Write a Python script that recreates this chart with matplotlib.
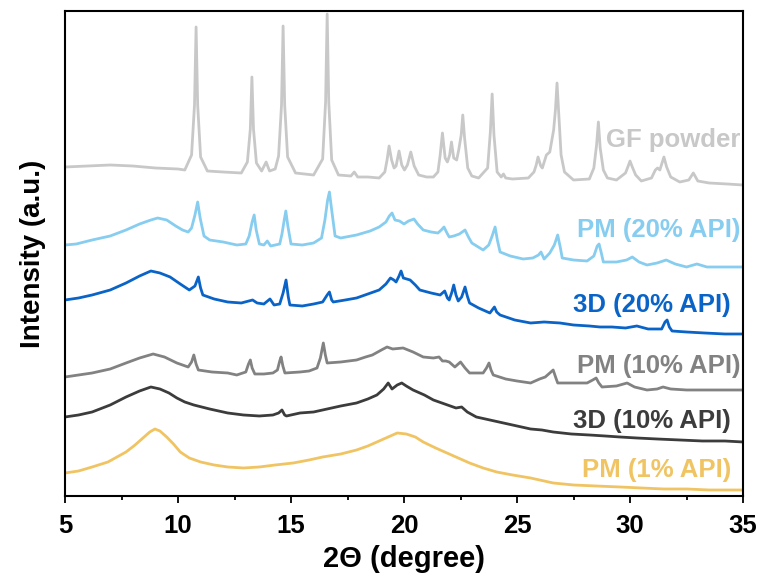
import matplotlib
matplotlib.use("Agg")
import matplotlib.pyplot as plt
from matplotlib.ticker import MultipleLocator

plt.rcParams['font.family'] = ['Liberation Sans', 'DejaVu Sans']
plt.rcParams['font.weight'] = 'bold'

# (2theta, intensity a.u.)
gf_powder = [
    (5.0, 329), (6.0, 330), (7.0, 331), (8.0, 330), (9.0, 328), (10.0, 327), (10.3, 326),
    (10.6, 341), (10.73, 391), (10.8, 469), (10.87, 391), (11.0, 339), (11.3, 325),
    (12.0, 324), (12.8, 323), (13.07, 334), (13.2, 367), (13.27, 419), (13.34, 367),
    (13.47, 333), (13.7, 325), (13.9, 334), (14.05, 325), (14.3, 327), (14.45, 340),
    (14.58, 391), (14.65, 470), (14.72, 391), (14.85, 339), (15.2, 323), (16.0, 321),
    (16.4, 337), (16.53, 394), (16.6, 482), (16.67, 394), (16.8, 336), (17.1, 321),
    (17.65, 320), (17.8, 324), (17.95, 319), (18.4, 319), (18.9, 318), (19.15, 324),
    (19.25, 336), (19.34, 350), (19.45, 336), (19.56, 328), (19.65, 330), (19.78, 345),
    (19.9, 331), (20.02, 326), (20.15, 331), (20.3, 344), (20.45, 330), (20.65, 321),
    (21.0, 319), (21.3, 319), (21.5, 324), (21.6, 341), (21.7, 363), (21.82, 338),
    (21.92, 334), (22.02, 341), (22.1, 354), (22.2, 338), (22.33, 336), (22.42, 346),
    (22.53, 361), (22.6, 381), (22.68, 358), (22.82, 328), (23.0, 320), (23.3, 318),
    (23.7, 328), (23.82, 364), (23.9, 402), (23.98, 361), (24.12, 324), (24.3, 319),
    (24.4, 322), (24.5, 318), (24.8, 317), (25.5, 318), (25.75, 324), (25.85, 331),
    (25.93, 339), (26.05, 330), (26.12, 328), (26.3, 341), (26.45, 344), (26.62, 366),
    (26.7, 386), (26.77, 413), (26.85, 381), (26.95, 341), (27.1, 324), (27.5, 316),
    (28.2, 317), (28.4, 328), (28.52, 351), (28.6, 374), (28.68, 348), (28.82, 326),
    (29.0, 318), (29.4, 316), (29.8, 323), (29.92, 330), (30.0, 335), (30.1, 329),
    (30.25, 321), (30.5, 315), (30.95, 318), (31.12, 326), (31.22, 328), (31.32, 326),
    (31.5, 339), (31.62, 329), (31.8, 319), (32.2, 314), (32.6, 316), (32.8, 323),
    (33.0, 315), (33.5, 313), (34.3, 312), (35.0, 311),
]

pm_20 = [
    (5.0, 251), (5.5, 252), (6.2, 256), (7.0, 260), (7.7, 266), (8.3, 272), (8.8, 276),
    (9.1, 278), (9.5, 276), (9.9, 270), (10.2, 266), (10.45, 264), (10.6, 268),
    (10.75, 281), (10.87, 294), (10.98, 278), (11.15, 260), (11.4, 256), (12.0, 254),
    (12.6, 251), (13.0, 252), (13.15, 260), (13.28, 274), (13.37, 281), (13.46, 266),
    (13.6, 252), (13.8, 251), (13.95, 255), (14.1, 250), (14.5, 252), (14.6, 262),
    (14.7, 276), (14.77, 285), (14.86, 270), (15.0, 252), (15.5, 251), (16.0, 253),
    (16.35, 258), (16.5, 276), (16.62, 296), (16.7, 304), (16.8, 286), (16.95, 260),
    (17.2, 258), (17.9, 261), (18.5, 265), (18.9, 269), (19.2, 274), (19.35, 280),
    (19.47, 283), (19.6, 276), (19.8, 275), (20.0, 272), (20.2, 275), (20.44, 277),
    (20.6, 272), (20.85, 266), (21.2, 264), (21.5, 263), (21.65, 266), (21.77, 269),
    (21.9, 263), (22.0, 259), (22.2, 260), (22.45, 262), (22.7, 266), (22.85, 259),
    (23.0, 253), (23.5, 246), (23.75, 251), (23.9, 260), (24.03, 269), (24.13, 256),
    (24.25, 244), (24.7, 240), (25.27, 237), (25.7, 238), (25.95, 241), (26.06, 244),
    (26.2, 237), (26.45, 243), (26.65, 251), (26.8, 261), (26.92, 248), (27.0, 238),
    (27.5, 236), (28.1, 235), (28.4, 240), (28.55, 250), (28.63, 252), (28.72, 244),
    (28.82, 234), (29.4, 234), (29.85, 236), (30.1, 239), (30.4, 234), (30.75, 231),
    (31.2, 233), (31.6, 236), (32.0, 232), (32.5, 229), (32.96, 232), (33.4, 229),
    (34.2, 229), (35.0, 229),
]

print_20 = [
    (5.0, 196), (5.6, 198), (6.2, 201), (7.0, 206), (7.7, 213), (8.3, 220), (8.8, 225),
    (9.2, 223), (9.65, 219), (10.1, 212), (10.5, 206), (10.75, 210), (10.9, 219),
    (11.0, 208), (11.1, 201), (11.6, 197), (12.2, 194), (12.8, 193), (13.3, 196),
    (13.5, 193), (13.8, 192), (14.07, 197), (14.25, 191), (14.5, 192), (14.65, 203),
    (14.78, 216), (14.88, 199), (14.95, 191), (15.5, 190), (16.0, 192), (16.4, 194),
    (16.6, 201), (16.7, 204), (16.8, 196), (16.87, 194), (17.4, 196), (17.9, 198),
    (18.4, 202), (18.9, 206), (19.2, 212), (19.4, 218), (19.55, 216), (19.65, 214),
    (19.78, 220), (19.87, 225), (19.97, 218), (20.27, 216), (20.5, 211), (20.7, 206),
    (21.2, 203), (21.6, 201), (21.8, 205), (21.92, 198), (22.0, 196), (22.12, 204),
    (22.2, 211), (22.3, 201), (22.4, 195), (22.55, 199), (22.7, 209), (22.8, 200),
    (22.9, 193), (23.3, 188), (23.8, 183), (24.0, 189), (24.1, 184), (24.25, 181),
    (24.9, 176), (25.6, 173), (26.2, 174), (26.9, 173), (27.5, 171), (28.2, 170),
    (28.67, 169), (29.2, 169), (29.8, 168), (30.3, 170), (30.8, 167), (31.4, 167),
    (31.55, 174), (31.64, 176), (31.74, 169), (31.86, 165), (32.5, 164), (33.3, 163),
    (34.2, 162), (35.0, 162),
]

pm_10 = [
    (5.0, 119), (5.6, 121), (6.2, 123), (7.0, 127), (7.7, 133), (8.3, 138), (8.9, 142),
    (9.4, 139), (9.95, 133), (10.45, 129), (10.6, 134), (10.7, 141), (10.8, 132),
    (10.9, 126), (11.5, 124), (12.2, 123), (12.6, 121), (13.0, 124), (13.12, 132),
    (13.2, 136), (13.28, 128), (13.4, 122), (13.8, 122), (14.2, 123), (14.4, 126),
    (14.5, 135), (14.56, 139), (14.64, 130), (14.73, 123), (15.4, 124), (15.8, 125),
    (16.15, 128), (16.3, 138), (16.43, 153), (16.52, 141), (16.6, 133), (17.2, 134),
    (17.9, 136), (18.3, 139), (18.6, 141), (19.0, 146), (19.25, 149), (19.5, 147),
    (19.96, 148), (20.4, 144), (20.85, 139), (21.3, 138), (21.55, 139), (21.7, 135),
    (21.85, 135), (22.0, 134), (22.25, 129), (22.5, 134), (22.7, 128), (22.9, 123),
    (23.5, 123), (23.65, 128), (23.76, 133), (23.85, 126), (23.95, 121), (24.5, 117),
    (25.0, 115), (25.6, 113), (26.0, 117), (26.25, 119), (26.45, 123), (26.6, 126),
    (26.72, 118), (26.8, 113), (27.5, 113), (28.1, 113), (28.35, 116), (28.5, 118),
    (28.62, 113), (28.76, 109), (29.4, 110), (29.87, 113), (30.2, 109), (30.75, 106),
    (31.2, 107), (31.46, 109), (31.8, 107), (32.5, 106), (33.5, 106), (34.3, 106),
    (35.0, 106),
]

print_10 = [
    (5.0, 79), (5.6, 81), (6.2, 84), (7.0, 91), (7.7, 99), (8.3, 105), (8.8, 109),
    (9.2, 107), (9.6, 103), (9.95, 98), (10.3, 94), (10.7, 91), (11.4, 87), (12.2, 83),
    (12.9, 81), (13.6, 80), (14.2, 81), (14.45, 83), (14.6, 86), (14.72, 81), (14.8, 80),
    (15.4, 83), (16.0, 84), (16.4, 86), (17.2, 90), (17.9, 93), (18.4, 97), (18.8, 101),
    (19.1, 107), (19.3, 113), (19.47, 107), (19.7, 111), (19.9, 113), (20.1, 110),
    (20.4, 106), (20.9, 101), (21.3, 96), (21.8, 92), (22.3, 88), (22.55, 89), (22.8, 84),
    (23.2, 79), (23.8, 76), (24.4, 73), (25.0, 70), (25.6, 67), (26.1, 66), (26.6, 64),
    (27.4, 62), (28.2, 61), (28.9, 60), (29.55, 59), (30.3, 58), (31.2, 57), (32.2, 56),
    (33.2, 55), (34.2, 55), (35.0, 54),
]

pm_1 = [
    (5.0, 23), (5.6, 25), (6.2, 29), (6.9, 34), (7.7, 44), (8.1, 51), (8.45, 58),
    (8.75, 64), (8.98, 67), (9.2, 65), (9.5, 59), (9.8, 52), (10.1, 44), (10.5, 38),
    (11.0, 34), (11.6, 31), (12.2, 29), (12.9, 28), (13.6, 29), (14.3, 31), (15.1, 33),
    (15.8, 36), (16.4, 39), (17.2, 42), (17.9, 46), (18.4, 50), (18.8, 54), (19.3, 59),
    (19.7, 63), (20.1, 62), (20.5, 59), (20.85, 54), (21.4, 48), (21.9, 43), (22.4, 38),
    (22.9, 33), (23.5, 28), (24.1, 24), (24.8, 21), (25.6, 18), (26.6, 13), (27.5, 11),
    (28.5, 10), (29.55, 9), (30.5, 8), (31.5, 7), (32.5, 7), (33.5, 6), (35.0, 6),
]

labels = ['GF powder', 'PM (20% API)', '3D (20% API)', 'PM (10% API)', '3D (10% API)', 'PM (1% API)']
colors = ['#c8c8c8', '#86cdf0', '#0a64c8', '#828282', '#3c3c3c', '#f0c462']
traces = [gf_powder, pm_20, print_20, pm_10, print_10, pm_1]
label_x = [34.87, 34.87, 34.47, 34.87, 34.47, 34.47]
label_y = [349, 259, 184, 123, 68, 19]

fig = plt.figure(figsize=(7.62, 5.73), dpi=100)
ax = fig.add_axes([0.0853, 0.1344, 0.8898, 0.8464])

for data, lab, c, lx, ly in zip(traces, labels, colors, label_x, label_y):
    tt, inten = zip(*data)
    ax.plot(tt, inten, color=c, lw=2.0)
    ax.text(lx, ly, lab, color=c, fontsize=18.5, fontweight='bold', ha='right', va='baseline')

ax.set_xlim(5, 35)
ax.set_ylim(0, 485)
ax.xaxis.set_major_locator(MultipleLocator(5))
ax.xaxis.set_minor_locator(MultipleLocator(2.5))
ax.set_yticks([])
ax.tick_params(axis='x', which='major', direction='out', length=5, width=1.3, labelsize=18.5, pad=8)
ax.tick_params(axis='x', which='minor', direction='out', length=3, width=1.3)
for lbl in ax.get_xticklabels():
    lbl.set_fontweight('bold')
for s in ax.spines.values():
    s.set_linewidth(1.5)

ax.set_xlabel('2Θ (degree)', fontsize=21, fontweight='bold', labelpad=5)
ax.set_ylabel('Intensity (a.u.)', fontsize=20, fontweight='bold', labelpad=14)

fig.savefig('out.png', dpi=100)
